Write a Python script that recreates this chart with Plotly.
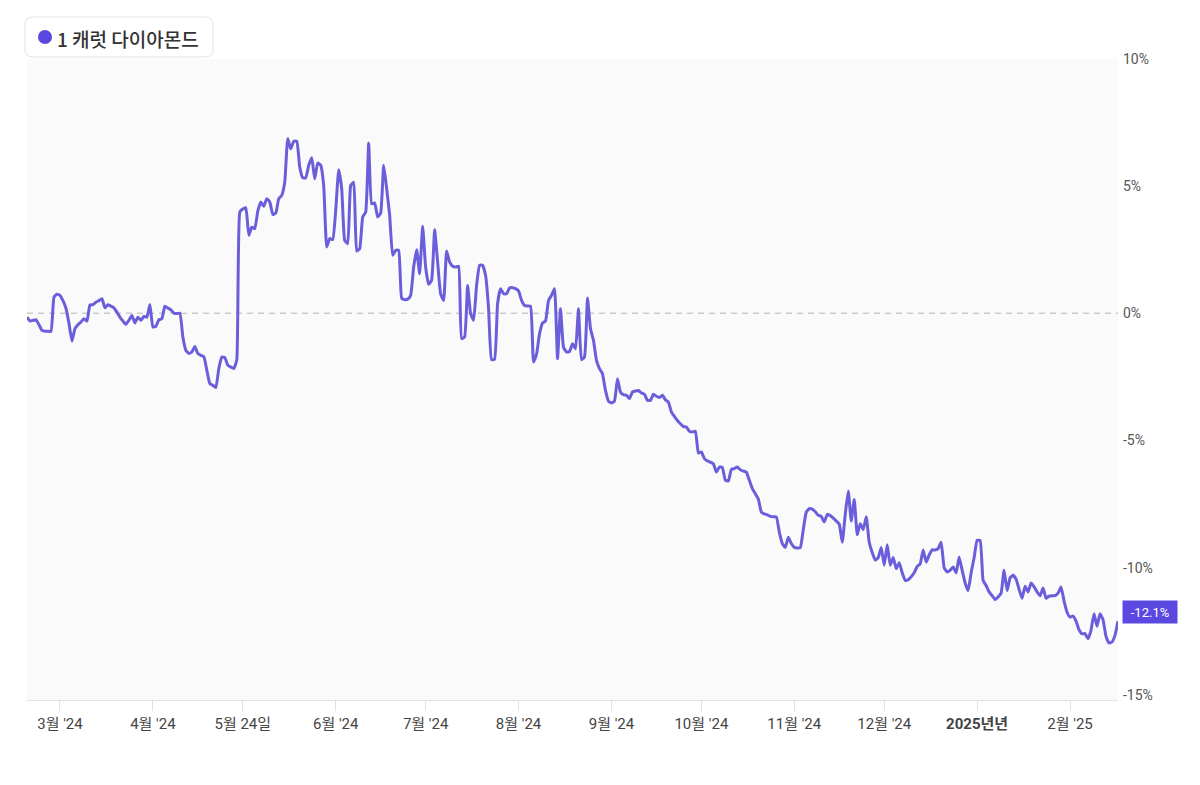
import plotly.graph_objects as go
import pandas as pd

# ---------------- data ----------------
START_DATE = "2024-02-19"
END_DATE = "2025-02-17"
series_name = "1 캐럿 다이아몬드"
last_label = "-12.1%"

# daily % change, one value per day starting at START_DATE
pct_change = [
    -0.15, -0.3, -0.28, -0.25, -0.45, -0.67, -0.7, -0.7, -0.71, 0.64,
    0.75, 0.71, 0.5, 0.2, -0.39, -1.09, -0.6, -0.45, -0.34, -0.21,
    -0.3, 0.33, 0.34, 0.44, 0.5, 0.58, 0.22, 0.34, 0.28, 0.22,
    0.05, -0.15, -0.3, -0.43, -0.27, -0.08, -0.38, -0.15, -0.27, -0.12,
    -0.15, 0.35, -0.54, -0.51, -0.25, -0.21, 0.28, 0.21, 0.14, 0.01,
    -0.01, 0.01, -0.93, -1.45, -1.58, -1.52, -1.3, -1.58, -1.65, -1.7,
    -2.24, -2.76, -2.83, -2.92, -2.17, -1.72, -1.74, -2.04, -2.11, -2.17,
    -1.82, 3.98, 4.1, 4.15, 3.07, 3.39, 3.33, 4.02, 4.38, 4.21,
    4.51, 4.38, 3.89, 3.94, 4.51, 4.64, 5.16, 6.87, 6.47, 6.77,
    6.77, 5.75, 5.33, 5.33, 5.82, 6.12, 5.29, 5.91, 5.82, 5.0,
    2.61, 2.94, 2.9, 4.05, 5.65, 4.9, 2.87, 2.74, 5.03, 5.16,
    2.45, 2.54, 3.79, 3.98, 6.69, 4.31, 4.34, 3.79, 3.94, 5.82,
    4.9, 3.85, 2.28, 2.48, 2.48, 0.6, 0.54, 0.56, 0.71, 1.82,
    2.5, 1.56, 3.42, 1.82, 1.14, 1.3, 3.29, 2.02, 0.77, 0.51,
    2.45, 2.02, 1.85, 1.82, 1.85, -0.99, -0.93, 1.1, -0.01, -0.27,
    1.1, 1.89, 1.89, 1.49, 0.2, -1.82, -1.8, 0.38, 0.97, 0.77,
    0.77, 1.0, 1.01, 0.97, 0.88, 0.51, 0.31, 0.29, 0.28, -1.91,
    -1.61, -0.8, -0.38, -0.3, 0.51, 0.71, 0.97, -1.78, 0.18, -1.33,
    -1.52, -1.5, -1.19, -1.39, 0.18, -1.82, -1.72, 0.6, -0.6, -1.06,
    -1.85, -2.17, -2.37, -3.03, -3.45, -3.52, -3.45, -2.57, -3.09, -3.2,
    -3.22, -3.35, -3.09, -3.05, -3.03, -3.13, -3.18, -3.42, -3.42, -3.18,
    -3.26, -3.31, -3.22, -3.4, -3.49, -3.88, -4.05, -4.21, -4.34, -4.45,
    -4.47, -4.63, -4.66, -4.63, -5.49, -5.45, -5.71, -5.8, -5.85, -5.91,
    -6.24, -6.04, -6.06, -6.56, -6.59, -6.14, -6.1, -6.04, -6.15, -6.2,
    -6.24, -6.56, -6.89, -7.09, -7.3, -7.81, -7.88, -7.92, -7.98, -8.0,
    -8.0, -8.6, -9.05, -9.2, -8.8, -9.05, -9.2, -9.22, -9.21, -8.5,
    -7.81, -7.68, -7.7, -7.8, -7.94, -7.98, -8.2, -7.9, -7.95, -8.05,
    -8.16, -8.29, -9.0, -7.9, -6.98, -8.16, -7.32, -8.7, -8.27, -8.5,
    -8.0, -9.0, -9.4, -9.7, -9.6, -9.2, -9.9, -9.1, -9.9, -9.6,
    -10.04, -9.8, -10.2, -10.5, -10.47, -10.35, -10.2, -9.95, -9.85, -9.3,
    -9.78, -9.5, -9.3, -9.3, -9.25, -9.0, -10.0, -10.17, -10.1, -9.97,
    -10.2, -9.58, -10.1, -10.6, -10.9, -10.2, -9.6, -8.92, -8.93, -10.5,
    -10.7, -10.95, -11.1, -11.25, -11.15, -11.0, -10.1, -10.9, -10.4, -10.3,
    -10.45, -10.85, -11.2, -10.73, -10.95, -10.6, -10.75, -10.95, -11.1, -10.8,
    -11.2, -11.12, -11.1, -11.1, -11.0, -10.76, -11.3, -11.75, -11.94, -11.9,
    -12.1, -12.44, -12.6, -12.59, -12.79, -12.46, -11.81, -12.3, -11.81, -12.04,
    -12.7, -12.96, -12.92, -12.66, -12.1,
]

tick_dates = ["2024-03-01", "2024-04-01", "2024-05-01", "2024-06-01",
              "2024-07-01", "2024-08-01", "2024-09-01", "2024-10-01",
              "2024-11-01", "2024-12-01", "2025-01-01", "2025-02-01"]
tick_labels = ["3월 '24", "4월 '24", "5월 24일", "6월 '24", "7월 '24", "8월 '24",
               "9월 '24", "10월 '24", "11월 '24", "12월 '24", "<b>2025년년</b>", "2월 '25"]
y_ticks = [10, 5, 0, -5, -10, -15]
y_labels = ["10%", "5%", "0%", "-5%", "-10%", "-15%"]

# ---------------- style ----------------
LINE_COLOR = "#6a5edb"
ACCENT = "#5a48e0"
W, H = 1200, 785
ML, MR, MT, MB = 27, 82, 59, 85
PW, PH = W - ML - MR, H - MT - MB


def px_x(px):
    return (px - ML) / PW


def px_y(py):
    return (H - MB - py) / PH


dates = pd.date_range(START_DATE, periods=len(pct_change), freq="D")

fig = go.Figure()
fig.add_trace(go.Scatter(
    x=dates, y=pct_change, mode="lines", name=series_name,
    line=dict(color=LINE_COLOR, width=3, shape="spline", smoothing=0.4),
    showlegend=False,
))

# legend box (rounded) + dot + text
x0, y0, x1, y1, r = 25, 17, 213, 57, 8
path = (f"M {px_x(x0 + r)},{px_y(y0)} L {px_x(x1 - r)},{px_y(y0)} "
        f"Q {px_x(x1)},{px_y(y0)} {px_x(x1)},{px_y(y0 + r)} "
        f"L {px_x(x1)},{px_y(y1 - r)} Q {px_x(x1)},{px_y(y1)} {px_x(x1 - r)},{px_y(y1)} "
        f"L {px_x(x0 + r)},{px_y(y1)} Q {px_x(x0)},{px_y(y1)} {px_x(x0)},{px_y(y1 - r)} "
        f"L {px_x(x0)},{px_y(y0 + r)} Q {px_x(x0)},{px_y(y0)} {px_x(x0 + r)},{px_y(y0)} Z")

shapes = [
    dict(type="path", xref="paper", yref="paper", path=path,
         line=dict(color="#e2e2e6", width=1), fillcolor="white", layer="above"),
    dict(type="circle", xref="paper", yref="paper",
         x0=px_x(38), x1=px_x(52), y0=px_y(44), y1=px_y(30),
         line=dict(width=0), fillcolor=ACCENT, layer="above"),
    dict(type="line", xref="paper", yref="y", x0=0, x1=1, y0=0, y1=0,
         line=dict(color="#c9c9c9", width=1.5, dash="6px,5px"), layer="below"),
]

annotations = [
    dict(xref="paper", yref="paper", x=px_x(55), y=px_y(38),
         xanchor="left", yanchor="middle", showarrow=False, text=series_name,
         font=dict(size=19, color="#333333", weight=500,
                   family="Noto Sans CJK KR, sans-serif")),
    dict(xref="paper", yref="y", x=1, y=pct_change[-1], xanchor="left", yanchor="middle",
         xshift=4, yshift=9, showarrow=False, text=last_label, bgcolor=ACCENT,
         width=48, height=16, borderpad=3, align="center",
         font=dict(size=13, color="white", family="Roboto, sans-serif")),
]

fig.update_layout(
    width=W, height=H,
    margin=dict(l=ML, r=MR, t=MT, b=MB),
    paper_bgcolor="white", plot_bgcolor="#fafafa",
    font=dict(family="Roboto, 'Noto Sans CJK KR', sans-serif", color="#555555"),
    showlegend=False,
    shapes=shapes, annotations=annotations,
    xaxis=dict(
        type="date", range=[START_DATE, END_DATE],
        tickmode="array", tickvals=tick_dates, ticktext=tick_labels,
        showgrid=False, zeroline=False, showline=True, linecolor="#e2e2e2", linewidth=1,
        ticks="outside", ticklen=10, tickcolor="#e2e2e2", tickwidth=1,
        tickfont=dict(size=15, color="#444444"),
    ),
    yaxis=dict(
        side="right", range=[-15.2, 10],
        tickmode="array", tickvals=y_ticks, ticktext=y_labels,
        showgrid=False, zeroline=False, showline=False, ticks="",
        ticklabelstandoff=4,
        tickfont=dict(size=14, color="#555555"),
    ),
)

fig.write_html("out.html")
